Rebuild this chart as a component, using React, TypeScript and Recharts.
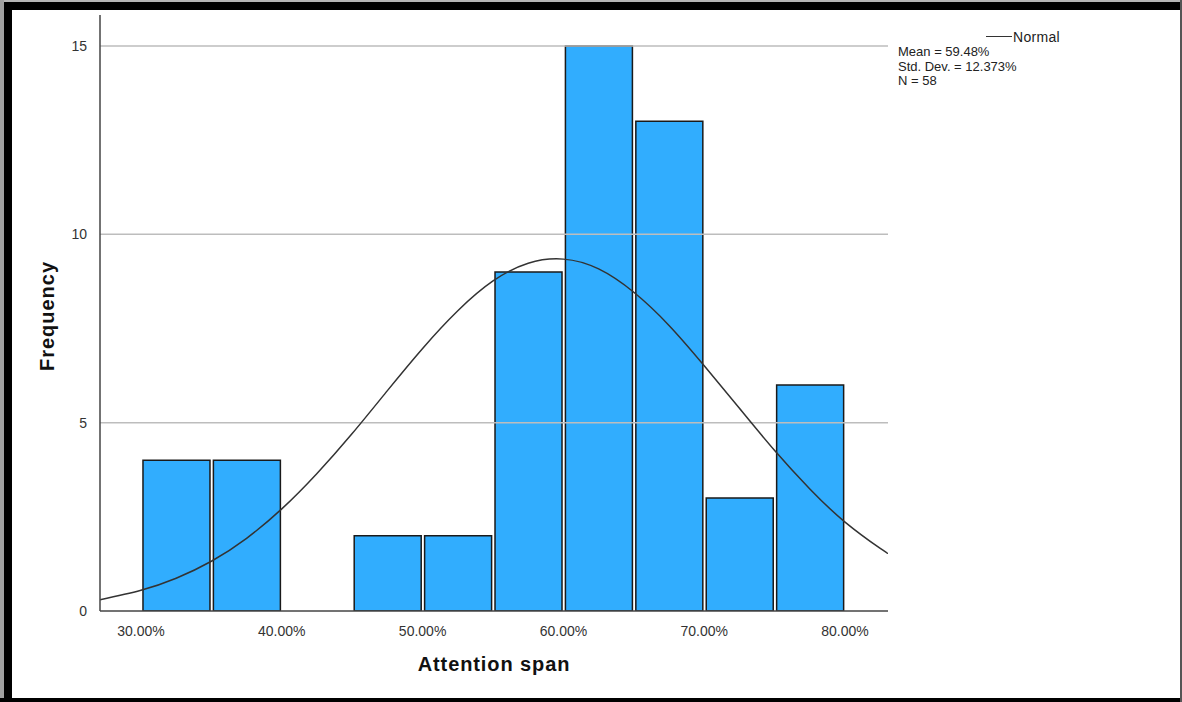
import React from "react";
import {
  ComposedChart,
  Bar,
  Line,
  XAxis,
  YAxis,
  ReferenceLine,
} from "recharts";

// Histogram bins (centre of each 5% bin) and counts
const binCenters = [32.5, 37.5, 42.5, 47.5, 52.5, 57.5, 62.5, 67.5, 72.5, 77.5];
const frequencies = [4, 4, 0, 2, 2, 9, 15, 13, 3, 6];

// Normal curve
const curveX = [27.1, 30, 32.5, 35, 37.5, 40, 42.5, 45, 47.5, 50, 52.5, 55, 57.5, 60, 62.5, 65, 67.5, 70, 72.5, 75, 77.5, 80, 82.5, 83.05];
const curveY = [0.3, 0.55, 0.87, 1.32, 1.93, 2.71, 3.65, 4.71, 5.85, 6.97, 7.97, 8.76, 9.23, 9.34, 9.08, 8.46, 7.58, 6.51, 5.38, 4.26, 3.24, 2.36, 1.66, 1.53];

const xTicks = [30, 40, 50, 60, 70, 80];
const yTicks = [0, 5, 10, 15];
const gridValues = [5, 10, 15];
const statsLines = ["Mean = 59.48%", "Std. Dev. = 12.373%", "N = 58"];
const legendName = "Normal";
const xTitle = "Attention span";
const yTitle = "Frequency";

const barData = binCenters.map((x, i) => ({ x, freq: frequencies[i] }));
const curveData = curveX.map((x, i) => ({ x, density: curveY[i] }));

const FONT = "'Liberation Sans', Arial, sans-serif";
const X_DOMAIN: [number, number] = [27.09, 83.05];

export default function App() {
  return (
    <div
      style={{
        position: "absolute",
        left: 0,
        top: 0,
        width: 1182,
        height: 702,
        background: "#fff",
        overflow: "hidden",
        fontFamily: FONT,
      }}
    >
      {/* frame */}
      <div style={{ position: "absolute", left: 0, top: 0, width: 1182, height: 2, background: "#b5b5b5" }} />
      <div style={{ position: "absolute", left: 0, top: 2, width: 1182, height: 8, background: "#000" }} />
      <div style={{ position: "absolute", left: 0, top: 0, width: 4, height: 702, background: "#a0a0a0" }} />
      <div style={{ position: "absolute", left: 4, top: 2, width: 7.5, height: 700, background: "#000" }} />
      <div style={{ position: "absolute", left: 0, top: 698, width: 1182, height: 4, background: "#000" }} />
      <div style={{ position: "absolute", left: 1180, top: 0, width: 2, height: 702, background: "#555" }} />

      <div style={{ position: "absolute", left: 0, top: 0 }}>
        <ComposedChart
          width={1182}
          height={702}
          data={barData}
          margin={{ top: 15, right: 294, bottom: 61, left: 0 }}
        >
          <XAxis
            xAxisId="main"
            type="number"
            dataKey="x"
            domain={X_DOMAIN}
            ticks={xTicks}
            allowDataOverflow
            tickFormatter={(v: number) => v.toFixed(2) + "%"}
            tickLine={false}
            tickMargin={9}
            height={30}
            axisLine={{ stroke: "#444", strokeWidth: 1.5 }}
            tick={{ fill: "#333", fontSize: 14, fontFamily: FONT }}
          />
          <XAxis
            xAxisId="bars"
            type="number"
            dataKey="x"
            domain={X_DOMAIN}
            allowDataOverflow
            hide
            height={0}
          />
          <YAxis
            type="number"
            domain={[0, 15.82]}
            ticks={yTicks}
            allowDataOverflow
            tickLine={false}
            tickMargin={7}
            width={100}
            axisLine={{ stroke: "#444", strokeWidth: 1.5 }}
            tick={{ fill: "#333", fontSize: 14, fontFamily: FONT }}
          />
          {gridValues.map((v) => (
            <ReferenceLine key={v} xAxisId="main" y={v} stroke="#bdbdbd" strokeWidth={1.5} />
          ))}
          <Bar
            xAxisId="bars"
            dataKey="freq"
            barSize={67}
            fill="#31adfe"
            stroke="#1a1a1a"
            strokeWidth={1.5}
            isAnimationActive={false}
          />
          <Line
            xAxisId="main"
            data={curveData}
            dataKey="density"
            type="natural"
            stroke="#333"
            strokeWidth={1.5}
            dot={false}
            activeDot={false}
            isAnimationActive={false}
          />
        </ComposedChart>
      </div>

      {/* legend */}
      <div style={{ position: "absolute", left: 986, top: 35.5, width: 26, height: 1.5, background: "#333" }} />
      <div style={{ position: "absolute", left: 1013, top: 29, fontSize: 14, lineHeight: "16px", color: "#222", letterSpacing: "0.3px" }}>
        {legendName}
      </div>
      <div style={{ position: "absolute", left: 898, top: 45, fontSize: 13, lineHeight: "14.5px", color: "#222" }}>
        {statsLines.map((s) => (
          <div key={s}>{s}</div>
        ))}
      </div>

      {/* axis titles */}
      <div
        style={{
          position: "absolute",
          left: 394,
          width: 200,
          top: 652,
          textAlign: "center",
          fontSize: 20,
          fontWeight: "bold",
          letterSpacing: "0.9px",
          lineHeight: "24px",
          color: "#111",
        }}
      >
        {xTitle}
      </div>
      <div
        style={{
          position: "absolute",
          left: 46.5 - 100,
          top: 316 - 12,
          width: 200,
          height: 24,
          lineHeight: "24px",
          textAlign: "center",
          fontSize: 20,
          fontWeight: "bold",
          letterSpacing: "1px",
          color: "#111",
          transform: "rotate(-90deg)",
          transformOrigin: "100px 12px",
        }}
      >
        {yTitle}
      </div>
    </div>
  );
}
